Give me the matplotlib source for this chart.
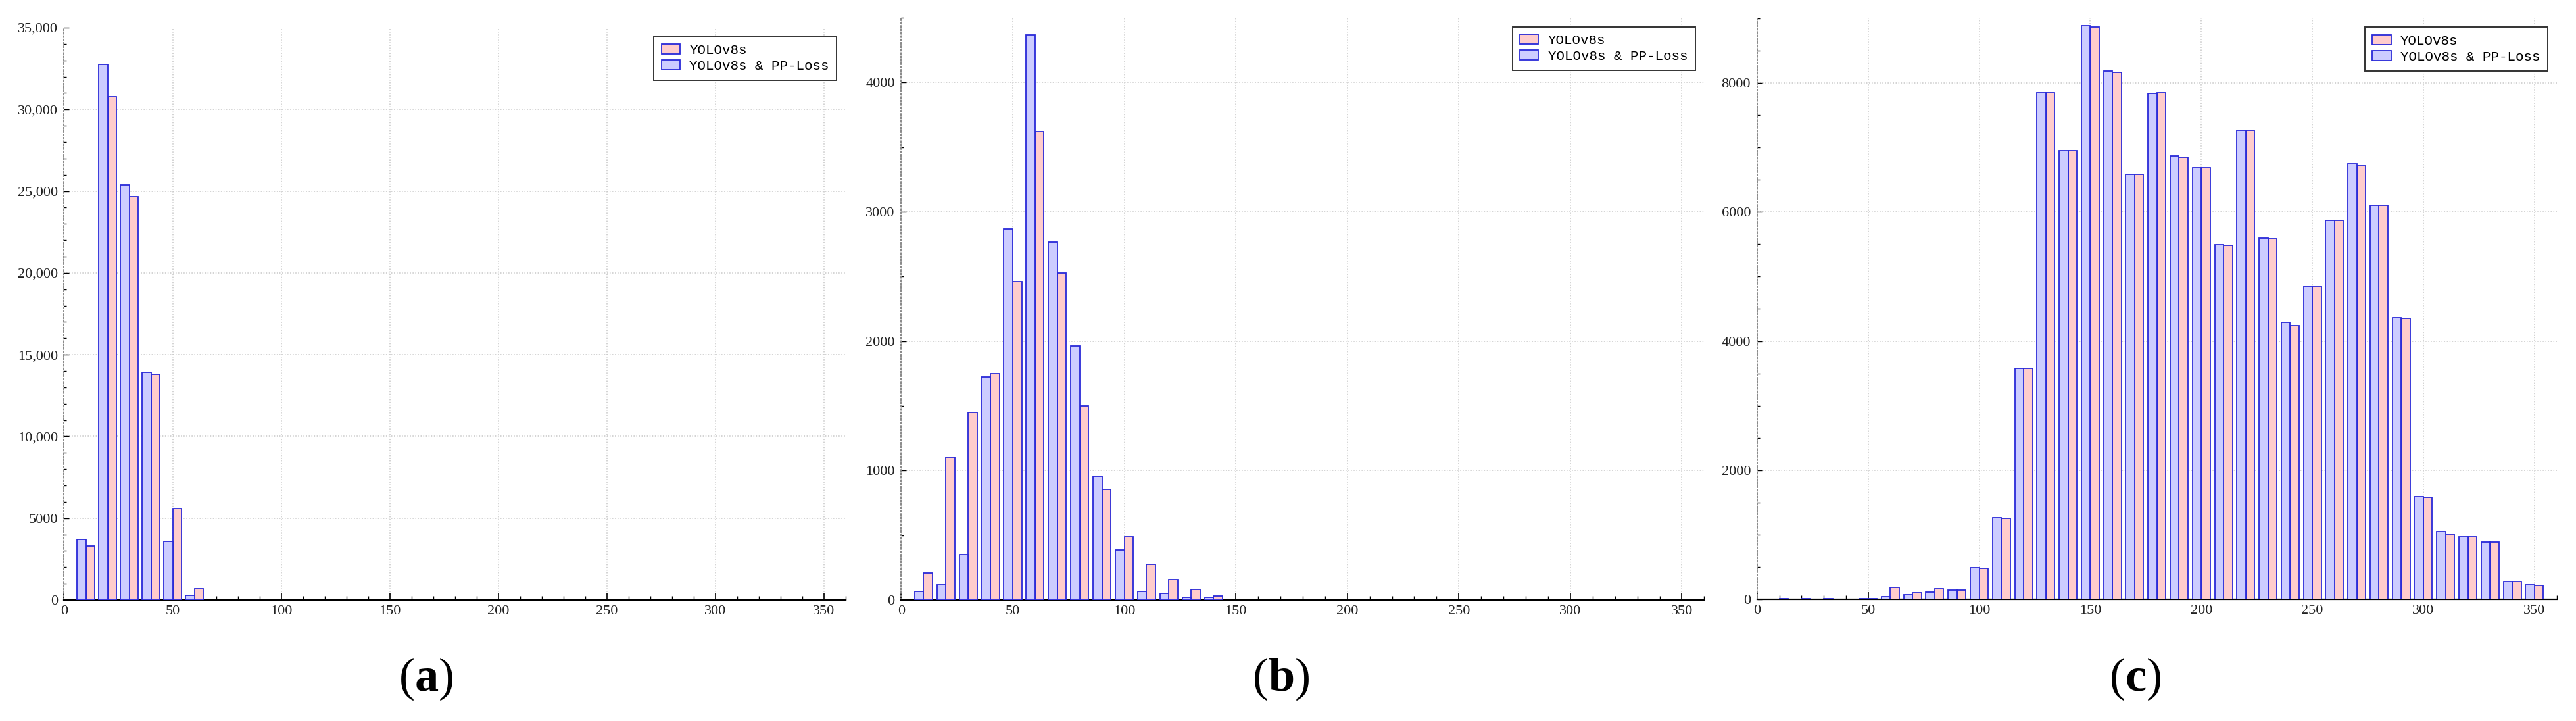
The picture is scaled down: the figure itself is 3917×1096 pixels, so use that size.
import matplotlib
matplotlib.use("Agg")
import matplotlib.pyplot as plt
from matplotlib.ticker import FuncFormatter, MultipleLocator
import numpy as np

plt.rcParams['mathtext.fontset'] = 'custom'
plt.rcParams['mathtext.rm'] = 'Liberation Serif'
plt.rcParams['mathtext.bf'] = 'Liberation Serif:bold'

# bin centres (width 10) and counts
bins_a = [10, 20, 30, 40, 50, 60]
yolo_a = [3290, 30760, 24680, 13780, 5590, 680]
pp_a = [3710, 32760, 25370, 13900, 3590, 270]

bins_b = [10, 20, 30, 40, 50, 60, 70, 80, 90, 100, 110, 120, 130, 140]
yolo_b = [210, 1103, 1451, 1750, 2462, 3621, 2527, 1501, 854, 487, 277, 160, 82, 32]
pp_b = [68, 117, 351, 1723, 2866, 4367, 2767, 1963, 955, 388, 68, 49, 22, 22]

bins_c = [10, 20, 30, 40, 50, 60, 70, 80, 90, 100, 110, 120, 130, 140, 150, 160, 170, 180,
          190, 200, 210, 220, 230, 240, 250, 260, 270, 280, 290, 300, 310, 320, 330, 340, 350]
yolo_c = [8, 12, 8, 0, 10, 186, 105, 167, 142, 483, 1250, 3582, 7844, 6947, 8871, 8160, 6588, 7844,
          6848, 6687, 5487, 7263, 5586, 4244, 4850, 5871, 6712, 6100, 4355, 1584, 1008, 965, 885, 278, 216]
pp_c = [0, 5, 0, 0, 10, 37, 68, 111, 142, 489, 1262, 3582, 7844, 6953, 8883, 8184, 6588, 7838,
        6873, 6681, 5493, 7263, 5598, 4287, 4850, 5871, 6749, 6106, 4361, 1590, 1045, 971, 885, 278, 223]

labels = ["YOLOv8s", "YOLOv8s & PP-Loss"]
captions = ["a", "b", "c"]


def fmt_count(x, _):
    if x >= 10000:
        return f"{int(x):,}"
    return f"{int(x)}"


fig = plt.figure(figsize=(39.17, 10.96), dpi=100)

panels = [
    (bins_a, yolo_a, pp_a, 35000, 5000, 1000, [0.02489, 0.1679, 0.3034, 0.7938]),
    (bins_b, yolo_b, pp_b, 4500, 1000, 500, [0.34986, 0.1679, 0.3117, 0.8075]),
    (bins_c, yolo_c, pp_c, 9000, 2000, 500, [0.6821, 0.1688, 0.3104, 0.8057]),
]
cap_x = [0.1654, 0.4971, 0.8289]

pink = '#ffcccc'
lav = '#ccccff'
edge = '#2a2ad8'

for i, (bins, yolo, pp, ymax, ymaj, ymin, rect) in enumerate(panels):
    ax = fig.add_axes(rect)
    x = np.array(bins, dtype=float)
    ax.bar(x + 2, yolo, width=4, color=pink, edgecolor=edge, linewidth=1.3, label=labels[0], zorder=3)
    ax.bar(x - 2, pp, width=4, color=lav, edgecolor=edge, linewidth=1.3, label=labels[1], zorder=3)

    ax.set_xlim(0, 360)
    ax.set_ylim(0, ymax)
    ax.xaxis.set_major_locator(MultipleLocator(50))
    ax.xaxis.set_minor_locator(MultipleLocator(10))
    ax.yaxis.set_major_locator(MultipleLocator(ymaj))
    ax.yaxis.set_minor_locator(MultipleLocator(ymin))
    ax.yaxis.set_major_formatter(FuncFormatter(fmt_count))

    ax.grid(True, which='major', linestyle=':', color='#c8c8c8', linewidth=1.1, zorder=0)
    for s in ['top', 'right']:
        ax.spines[s].set_visible(False)
    ax.spines['bottom'].set_linewidth(1.6)
    ax.spines['left'].set_linestyle(':')
    ax.spines['left'].set_color('#888888')
    ax.spines['left'].set_linewidth(1.4)

    ax.tick_params(axis='both', which='both', direction='in', labelsize=16)
    ax.tick_params(axis='x', which='major', length=8, width=1.2, pad=6)
    ax.tick_params(axis='x', which='minor', length=4, width=1.0)
    ax.tick_params(axis='y', which='major', length=6, width=1.0, pad=7)
    ax.tick_params(axis='y', which='minor', length=3, width=1.0)
    for lab in ax.get_xticklabels() + ax.get_yticklabels():
        lab.set_fontfamily('Liberation Serif')
        lab.set_color('#222222')

    leg = ax.legend(loc='upper right', prop={'family': 'Liberation Mono', 'size': 15},
                    frameon=True, fancybox=False, framealpha=1, edgecolor='#333333',
                    borderpad=0.55, handlelength=1.35, handleheight=0.72,
                    handletextpad=0.7, labelspacing=0.25, borderaxespad=0.65)
    leg.get_frame().set_linewidth(1.4)

    fig.text(cap_x[i], 0.058, "(" + r"$\mathbf{" + captions[i] + "}$" + ")",
             ha='center', va='center', fontsize=52, family='Liberation Serif')

fig.savefig("out.png", dpi=100)
